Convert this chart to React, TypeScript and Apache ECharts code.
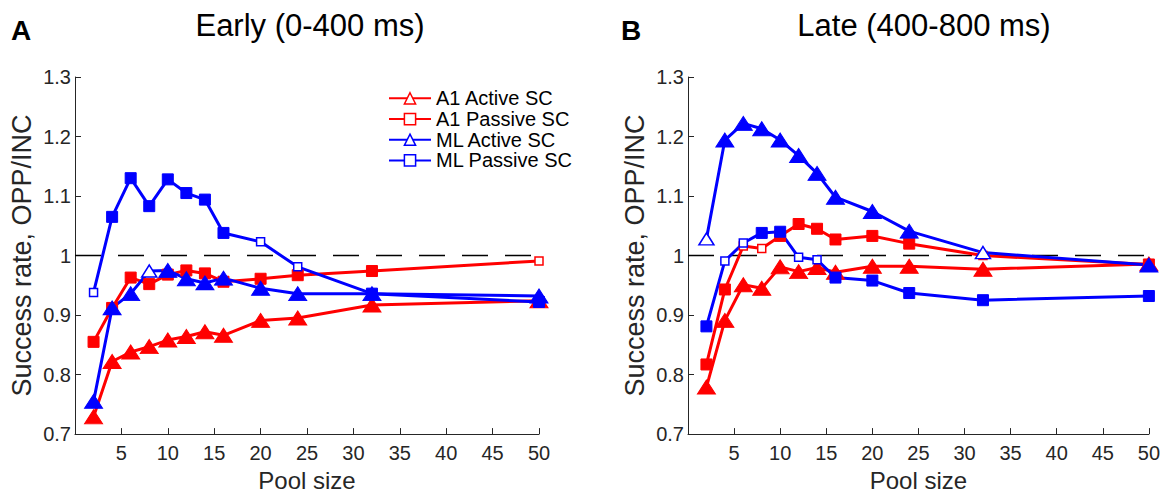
import React, { useEffect, useRef } from "react";
import * as echarts from "echarts";

const poolSizes = [2, 4, 6, 8, 10, 12, 14, 16, 20, 24, 32, 50];
const xTicks = [5, 10, 15, 20, 25, 30, 35, 40, 45, 50];
const yTicks = [0.7, 0.8, 0.9, 1, 1.1, 1.2, 1.3];

// Early (0-400 ms)
const earlyA1Active = [0.729, 0.822, 0.838, 0.847, 0.858, 0.864, 0.872, 0.866, 0.891, 0.895, 0.917, 0.924];
const earlyA1Passive = [0.855, 0.912, 0.963, 0.952, 0.968, 0.975, 0.970, 0.956, 0.961, 0.967, 0.974, 0.991];
const earlyMLActive = [0.755, 0.912, 0.936, 0.974, 0.975, 0.961, 0.954, 0.962, 0.945, 0.936, 0.936, 0.932];
const earlyMLPassive = [0.938, 1.065, 1.130, 1.083, 1.128, 1.105, 1.094, 1.038, 1.023, 0.981, 0.936, 0.922];
// hollow (non-significant) markers: pool sizes
const earlyA1ActiveHollow: number[] = [];
const earlyA1PassiveHollow = [50];
const earlyMLActiveHollow = [8];
const earlyMLPassiveHollow = [2, 20, 24];

// Late (400-800 ms)
const lateA1Active = [0.779, 0.891, 0.951, 0.945, 0.981, 0.973, 0.980, 0.972, 0.982, 0.982, 0.977, 0.986];
const lateA1Passive = [0.817, 0.943, 1.016, 1.012, 1.033, 1.053, 1.045, 1.027, 1.033, 1.020, 1.000, 0.985];
const lateMLActive = [1.028, 1.194, 1.222, 1.213, 1.194, 1.168, 1.138, 1.098, 1.074, 1.041, 1.005, 0.984];
const lateMLPassive = [0.881, 0.991, 1.021, 1.038, 1.040, 0.997, 0.993, 0.963, 0.958, 0.937, 0.925, 0.932];
const lateA1ActiveHollow: number[] = [];
const lateA1PassiveHollow = [6, 8, 32];
const lateMLActiveHollow = [2, 32];
const lateMLPassiveHollow = [4, 6, 12, 14];

const seriesNames = ["A1 Active SC", "A1 Passive SC", "ML Active SC", "ML Passive SC"];
const panelTitles = ["Early (0-400 ms)", "Late (400-800 ms)"];
const panelLetters = ["A", "B"];
const referenceLine = [[0, 1], [50, 1]];

const RED = "#ff0000";
const BLUE = "#0000ff";
const FONT = "Liberation Sans";

export default function App() {
  const ref = useRef<HTMLDivElement>(null);
  useEffect(() => {
    if (!ref.current) return;
    const chart = echarts.init(ref.current, undefined, { renderer: "svg" });

    const mk = (
      name: string,
      vals: number[],
      hollow: number[],
      color: string,
      tri: boolean,
      gi: number
    ) => ({
      type: "line",
      name,
      xAxisIndex: gi,
      yAxisIndex: gi,
      symbol: tri ? "triangle" : "rect",
      symbolSize: tri ? [18, 14] : [11, 11],
      lineStyle: { color, width: 3 },
      itemStyle: { color, borderColor: color, borderWidth: 1 },
      z: 3,
      data: poolSizes.map((x, i) => {
        const h = hollow.includes(x);
        return h
          ? {
              value: [x, vals[i]],
              symbolSize: tri ? [15, 12] : [8, 8],
              itemStyle: { color: "#ffffff", borderColor: color, borderWidth: 1.5 },
            }
          : { value: [x, vals[i]] };
      }),
    });

    const dashed = (gi: number) => ({
      type: "line",
      name: "ref" + gi,
      xAxisIndex: gi,
      yAxisIndex: gi,
      symbol: "none",
      silent: true,
      z: 2,
      lineStyle: { color: "#000", width: 1.5, type: [26, 17] },
      data: referenceLine,
    });

    const xAxis = (gi: number) => ({
      type: "value",
      gridIndex: gi,
      min: 0,
      max: 50,
      interval: 5,
      name: "Pool size",
      nameLocation: "middle",
      nameGap: 33,
      nameTextStyle: { fontFamily: FONT, fontSize: 24, color: "#262626" },
      axisLine: { show: true, lineStyle: { color: "#262626", width: 1 } },
      axisTick: { show: true, inside: true, length: 6, lineStyle: { color: "#262626" } },
      axisLabel: {
        showMinLabel: false,
        margin: 9,
        fontFamily: FONT,
        fontSize: 20,
        color: "#262626",
        formatter: (v: number) => (xTicks.includes(v) ? String(v) : ""),
      },
      splitLine: { show: false },
    });

    const yAxis = (gi: number) => ({
      type: "value",
      gridIndex: gi,
      min: 0.7,
      max: 1.3,
      interval: 0.1,
      name: "Success rate, OPP/INC",
      nameLocation: "middle",
      nameGap: 40,
      nameTextStyle: { fontFamily: FONT, fontSize: 27, color: "#262626" },
      axisLine: { show: true, lineStyle: { color: "#262626", width: 1 } },
      axisTick: { show: true, inside: true, length: 6, lineStyle: { color: "#262626" } },
      axisLabel: {
        margin: 4,
        fontFamily: FONT,
        fontSize: 20,
        color: "#262626",
        formatter: (v: number) => {
          const r = Math.round(v * 10) / 10;
          return yTicks.includes(r) ? String(r) : "";
        },
      },
      splitLine: { show: false },
    });

    const titleStyle = { fontFamily: FONT, fontSize: 31, fontWeight: "normal", color: "#000" };
    const letterStyle = { fontFamily: FONT, fontSize: 28, fontWeight: "bold", color: "#000" };

    chart.setOption({
      animation: false,
      backgroundColor: "#ffffff",
      textStyle: { fontFamily: FONT },
      grid: [
        { left: 75, width: 464, top: 77, height: 366 },
        { left: 688, width: 464, top: 77, height: 366 },
      ],
      xAxis: [xAxis(0), xAxis(1)],
      yAxis: [yAxis(0), yAxis(1)],
      title: [
        { text: panelTitles[0], left: 310, top: 10, padding: 0, textAlign: "center", textStyle: titleStyle },
        { text: panelTitles[1], left: 924, top: 10, padding: 0, textAlign: "center", textStyle: titleStyle },
        { text: panelLetters[0], left: 11, top: 16, padding: 0, textStyle: letterStyle },
        { text: panelLetters[1], left: 621, top: 16, padding: 0, textStyle: letterStyle },
      ],
      legend: {
        orient: "vertical",
        left: 388,
        top: 88,
        padding: 0,
        itemGap: 0,
        itemWidth: 42,
        itemHeight: 14,
        textStyle: { fontFamily: FONT, fontSize: 20, color: "#000", lineHeight: 20.7 },
        data: [
          { name: seriesNames[0], itemStyle: { color: "#fff", borderColor: RED, borderWidth: 1.5 } },
          { name: seriesNames[1], itemStyle: { color: "#fff", borderColor: RED, borderWidth: 1.5 } },
          { name: seriesNames[2], itemStyle: { color: "#fff", borderColor: BLUE, borderWidth: 1.5 } },
          { name: seriesNames[3], itemStyle: { color: "#fff", borderColor: BLUE, borderWidth: 1.5 } },
        ],
      },
      series: [
        dashed(0),
        dashed(1),
        mk(seriesNames[0], earlyA1Active, earlyA1ActiveHollow, RED, true, 0),
        mk(seriesNames[1], earlyA1Passive, earlyA1PassiveHollow, RED, false, 0),
        mk(seriesNames[2], earlyMLActive, earlyMLActiveHollow, BLUE, true, 0),
        mk(seriesNames[3], earlyMLPassive, earlyMLPassiveHollow, BLUE, false, 0),
        mk(seriesNames[0], lateA1Active, lateA1ActiveHollow, RED, true, 1),
        mk(seriesNames[1], lateA1Passive, lateA1PassiveHollow, RED, false, 1),
        mk(seriesNames[2], lateMLActive, lateMLActiveHollow, BLUE, true, 1),
        mk(seriesNames[3], lateMLPassive, lateMLPassiveHollow, BLUE, false, 1),
      ],
    });
    return () => chart.dispose();
  }, []);
  return (
    <div
      ref={ref}
      style={{ position: "absolute", left: 0, top: 0, width: 1163, height: 497 }}
    />
  );
}
